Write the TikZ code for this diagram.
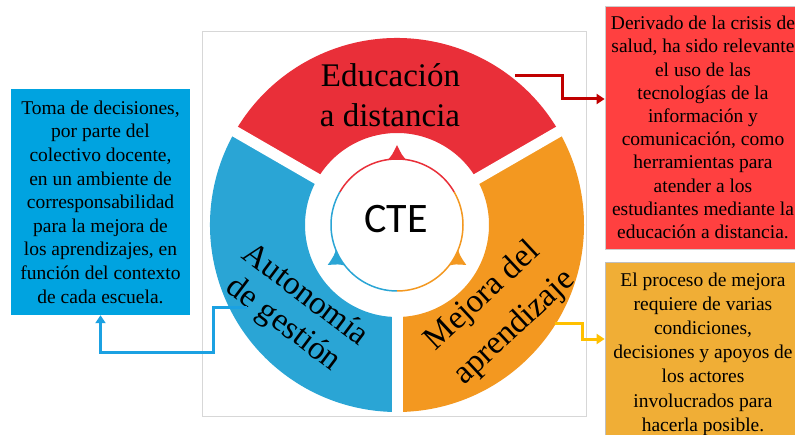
\documentclass[tikz,border=0pt]{standalone}
\usepackage{fontspec}
\setmainfont{Liberation Serif}
\newfontfamily\ctefont{Carlito}
\usetikzlibrary{arrows.meta}
\definecolor{segred}{RGB}{233,47,57}
\definecolor{segblue}{RGB}{42,165,213}
\definecolor{segorange}{RGB}{243,152,32}
\definecolor{boxblue}{RGB}{0,163,224}
\definecolor{boxred}{RGB}{255,64,64}
\definecolor{boxorange}{RGB}{240,174,54}
\definecolor{linered}{RGB}{192,0,0}
\definecolor{lineblue}{RGB}{27,161,226}
\definecolor{lineyellow}{RGB}{255,192,0}
\definecolor{framegray}{RGB}{215,215,215}
\begin{document}
\begin{tikzpicture}[x=1pt,y=1pt,
  infobox/.style={inner sep=0pt, align=center, text=black},
  conn/.style={line width=3pt, -{Triangle[length=8pt,width=10pt]}},
  segtext/.style={font=\fontsize{33}{40}\selectfont, inner sep=0pt, text=black},
]
\useasboundingbox (0,0) rectangle (795,434);
\clip (0,0) rectangle (795,434);
\fill[white] (0,0) rectangle (795,434);
\draw[framegray, line width=1pt] (202,18) rectangle (586,402);

% ring segments
\begin{scope}[shift={(397,209)}]
\fill[segred] (30:187) arc[start angle=30,end angle=150,radius=187] -- (150:92) arc[start angle=150,end angle=30,radius=92] -- cycle;
\fill[segblue] (150:187) arc[start angle=150,end angle=270,radius=187] -- (270:92) arc[start angle=270,end angle=150,radius=92] -- cycle;
\fill[segorange] (270:187) arc[start angle=270,end angle=390,radius=187] -- (30:92) arc[start angle=390,end angle=270,radius=92] -- cycle;
\foreach \a in {30,150,270} \draw[white, line width=11pt] (0,0) -- (\a:190);
\foreach \a/\c in {90/segred, 210/segblue, 330/segorange}
  \fill[\c] ({\a+9}:65) .. controls ({\a+4}:70) .. (\a:80) .. controls ({\a-4}:70) .. ({\a-9}:65) -- cycle;
\fill[white] (0,0) circle[radius=66];
\draw[segred, line width=1.5pt] (30:66) arc[start angle=30,end angle=150,radius=66];
\draw[segblue, line width=1.5pt] (150:66) arc[start angle=150,end angle=270,radius=66];
\draw[segorange, line width=1.5pt] (270:66) arc[start angle=270,end angle=390,radius=66];
\end{scope}

\node[font=\ctefont\fontsize{42}{42}\selectfont, inner sep=0pt] (cte) at (396,215) {CTE};

\node[segtext, anchor=base] (ed1) at (390.5,347.3) {Educación};
\node[segtext, anchor=base] (ed2) at (390,307.3) {a distancia};
\node[segtext, rotate=-37] (au1) at (307,141) {Autonomía};
\node[segtext, rotate=-37] (au2) at (283,109) {de gestión};
\node[segtext, rotate=43] (me1) at (483,137) {Mejora del};
\node[segtext, rotate=43] (me2) at (515,106) {aprendizaje};

% boxes
\node[infobox, fill=boxblue, minimum width=179pt, minimum height=226pt,
      font=\fontsize{19.5}{23.6}\selectfont] (bluebox) at (100.5,232)
  {Toma de decisiones,\\ por parte del\\ colectivo docente,\\ en un ambiente de\\ corresponsabilidad\\ para la mejora de\\ los aprendizajes, en\\ función del contexto\\ de cada escuela.};
\node[infobox, fill=boxred, draw=black!20, line width=0.8pt, minimum width=196pt, minimum height=243pt,
      font=\fontsize{19.5}{23.2}\selectfont] (redbox) at (703,306.5)
  {Derivado de la crisis de\\ salud, ha sido relevante\\ el uso de las\\ tecnologías de la\\ información y\\ comunicación, como\\ herramientas para\\ atender a los\\ estudiantes mediante la\\ educación a distancia.};
\node[infobox, fill=boxorange, draw=black!25, line width=0.8pt, minimum width=196pt, minimum height=184pt,
      font=\fontsize{19.5}{24.2}\selectfont] (orangebox) at (703,80)
  {El proceso de mejora\\ requiere de varias\\ condiciones,\\ decisiones y apoyos de\\ los actores\\ involucrados para\\ hacerla posible.};

% connectors
\coordinate (rs) at (515,358);
\coordinate (bs) at (247,126);
\coordinate (os) at (555,110);
\draw[conn, linered] (rs) -- (562,358) |- (redbox.west |- 0,335);
\draw[conn, lineblue] (bs) -- (213,126) -- (213,82) -| (bluebox.south);
\draw[conn, lineyellow] (os) -- (582,110) |- (orangebox.west |- 0,95);
\end{tikzpicture}
\end{document}
